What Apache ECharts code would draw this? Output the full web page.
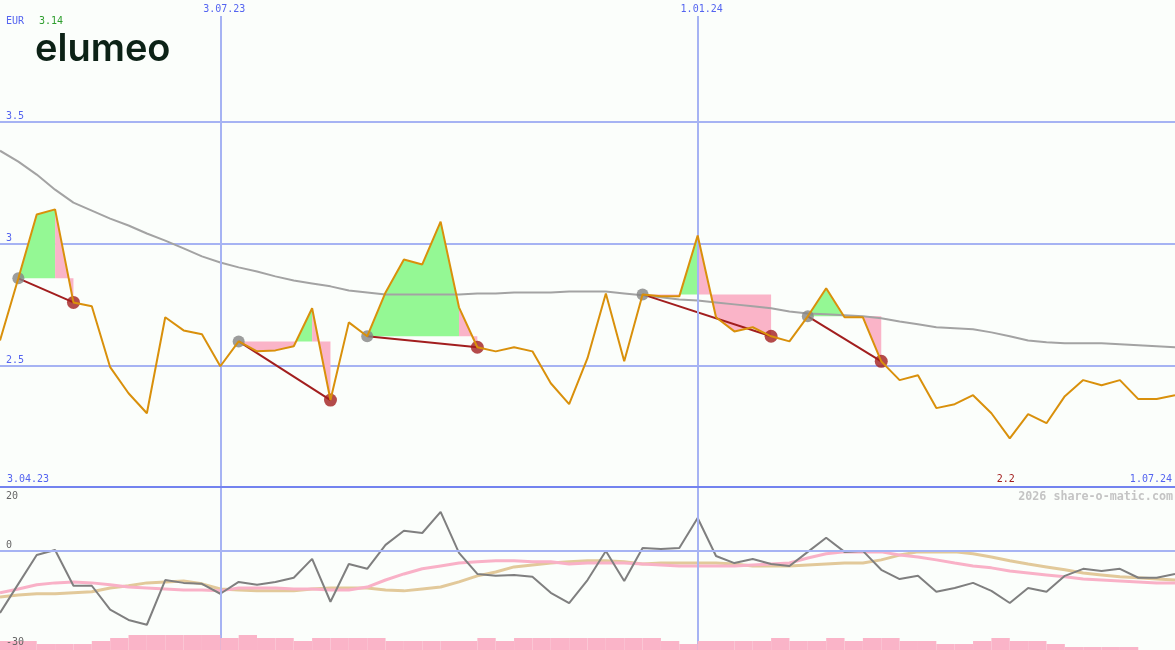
<!DOCTYPE html>
<html>
<head>
<meta charset="utf-8">
<script src="https://cdn.jsdelivr.net/npm/echarts@6/dist/echarts.min.js"></script>
<style>
  html, body { margin: 0; padding: 0; background: #fbfefb; }
  #chart { width: 1175px; height: 650px; }
</style>
</head>
<body>
<div id="chart"></div>
<script>
// ---------- data (weekly points, index 0..64) ----------
const price = [2.602, 2.857, 3.119, 3.14, 2.758, 2.742, 2.492, 2.385, 2.303, 2.697,
  2.643, 2.627, 2.496, 2.598, 2.557, 2.561, 2.578, 2.734, 2.357, 2.676,
  2.619, 2.799, 2.934, 2.914, 3.090, 2.738, 2.574, 2.557, 2.574, 2.557,
  2.426, 2.340, 2.529, 2.795, 2.516, 2.791, 2.783, 2.783, 3.033, 2.697,
  2.639, 2.656, 2.619, 2.598, 2.701, 2.816, 2.697, 2.697, 2.516, 2.439,
  2.459, 2.324, 2.340, 2.377, 2.303, 2.20, 2.299, 2.262, 2.373, 2.439,
  2.418, 2.439, 2.361, 2.361, 2.377];
const movingAvg = [3.381, 3.336, 3.283, 3.221, 3.168, 3.135, 3.102, 3.074, 3.041, 3.012,
  2.980, 2.947, 2.922, 2.902, 2.885, 2.865, 2.848, 2.836, 2.824, 2.807,
  2.799, 2.791, 2.791, 2.791, 2.791, 2.791, 2.795, 2.795, 2.799, 2.799,
  2.799, 2.803, 2.803, 2.803, 2.795, 2.787, 2.779, 2.770, 2.766, 2.758,
  2.750, 2.742, 2.734, 2.721, 2.713, 2.709, 2.705, 2.701, 2.693, 2.680,
  2.668, 2.656, 2.652, 2.648, 2.635, 2.619, 2.602, 2.594, 2.590, 2.590,
  2.590, 2.586, 2.582, 2.578, 2.574];
// signals: [start index, turn index, end index]
const signals = [[1, 3, 4], [13, 17, 18], [20, 25, 26], [35, 38, 42], [44, 46, 48]];

const oscillator = [-19.4, -10.3, -1.3, 0.3, -10.9, -10.9, -18.4, -21.6, -23.1, -9.1,
  -10.0, -10.3, -13.4, -9.7, -10.6, -9.7, -8.4, -2.5, -15.9, -4.1,
  -5.6, 1.9, 6.3, 5.6, 12.2, -0.6, -7.2, -7.8, -7.5, -8.1,
  -13.1, -16.3, -9.1, 0.0, -9.4, 0.9, 0.6, 0.9, 10.3, -1.6,
  -3.8, -2.5, -4.1, -4.7, -0.3, 4.1, -0.3, 0.0, -5.9, -8.8,
  -7.8, -12.8, -11.6, -10.0, -12.5, -16.3, -11.6, -12.8, -7.8, -5.6,
  -6.3, -5.6, -8.4, -8.4, -7.2];
const oscFast = [-13.1, -11.9, -10.6, -10.0, -9.7, -10.0, -10.6, -11.3, -11.6, -11.9,
  -12.2, -12.2, -12.5, -11.6, -11.6, -11.6, -11.9, -11.9, -12.2, -12.2,
  -11.3, -9.1, -7.2, -5.6, -4.7, -3.8, -3.4, -3.1, -3.1, -3.4,
  -3.4, -4.1, -3.8, -3.8, -3.8, -4.1, -4.4, -4.7, -4.7, -4.7,
  -4.7, -4.4, -4.1, -3.8, -2.2, -0.9, -0.3, -0.3, -0.3, -1.3,
  -1.9, -2.8, -3.8, -4.7, -5.3, -6.3, -6.9, -7.5, -8.1, -8.8,
  -9.1, -9.4, -9.7, -10.0, -10.0];
const oscSlow = [-14.4, -13.8, -13.4, -13.4, -13.1, -12.8, -11.6, -10.9, -10.0, -9.7,
  -9.4, -10.3, -11.9, -12.2, -12.5, -12.5, -12.5, -11.9, -11.6, -11.6,
  -11.6, -12.2, -12.5, -11.9, -11.3, -9.7, -7.8, -6.6, -5.0, -4.4,
  -3.8, -3.4, -3.1, -3.1, -3.4, -4.1, -3.8, -3.8, -3.8, -3.8,
  -4.1, -4.7, -4.7, -4.7, -4.4, -4.1, -3.8, -3.8, -2.8, -1.3,
  -0.3, -0.3, -0.3, -0.9, -1.9, -3.1, -4.1, -5.0, -5.9, -6.9,
  -7.5, -8.1, -8.4, -8.8, -9.1];
const volume = [3, 3, 2, 2, 2, 3, 4, 5, 5, 5, 5, 5, 4, 5, 4, 4, 3, 4, 4, 4,
  4, 3, 3, 3, 3, 3, 4, 3, 4, 4, 4, 4, 4, 4, 4, 4, 3, 2, 3, 3,
  3, 3, 4, 3, 3, 4, 3, 4, 4, 3, 3, 2, 2, 3, 4, 3, 3, 2, 1, 1,
  1, 1, 0, 0];

const dateLabels = ['3.04.23', '3.07.23', '1.01.24', '1.07.24'];
const dateIdx = [0, 12, 38, 64];
const priceTicks = [2.5, 3, 3.5];
const oscTicks = [20, 0, -30];
const currency = 'EUR';
const maxLabel = '3.14';
const minLabel = '2.2';
const brand = 'elumeo';
const watermark = '2026 share-o-matic.com';

// ---------- styles ----------
const MONO = 'DejaVu Sans Mono';
const BLUE_TXT = '#5464f0';
const GRID_C = '#a6b3f3';
const GREEN_F = '#94f894';
const PINK_F = '#fab4c8';
const DARKRED = '#a21e1e';

const N = price.length - 1;
const minIdx = price.indexOf(Math.min(...price));

const chart = echarts.init(document.getElementById('chart'), null, { renderer: 'canvas' });

function fillRender(params, api) {
  const s = api.value(0), m = api.value(1), e = api.value(2);
  const L = price[s];
  const build = (a, b, fn) => {
    const pts = [];
    for (let i = a; i <= b; i++) {
      pts.push(api.coord([i, fn(price[i], L)]));
      if (i < b) {
        const d0 = price[i] - L, d1 = price[i + 1] - L;
        if (d0 * d1 < 0) {
          const t = d0 / (d0 - d1);
          pts.push(api.coord([i + t, L]));
        }
      }
    }
    pts.push(api.coord([b, L]));
    pts.push(api.coord([a, L]));
    return pts;
  };
  return {
    type: 'group',
    children: [
      { type: 'polygon', shape: { points: build(s, m, (p, l) => Math.max(p, l)) }, style: { fill: GREEN_F } },
      { type: 'polygon', shape: { points: build(s, m, (p, l) => Math.min(p, l)) }, style: { fill: PINK_F } },
      { type: 'polygon', shape: { points: build(m, e, (p) => p) }, style: { fill: PINK_F } }
    ]
  };
}

function trendRender(params, api) {
  const s = api.value(0), e = api.value(2);
  const a = api.coord([s, price[s]]);
  const b = api.coord([e, price[e]]);
  return { type: 'line', shape: { x1: a[0], y1: a[1], x2: b[0], y2: b[1] }, style: { stroke: DARKRED, lineWidth: 2 } };
}

function volRender(params, api) {
  const i = api.value(0), v = api.value(1);
  const a = api.coord([i, v]);
  const b = api.coord([i + 1, 0]);
  return { type: 'rect', shape: { x: a[0], y: a[1], width: b[0] - a[0], height: b[1] - a[1] }, style: { fill: PINK_F } };
}

const vTop = 4 - 16 / 244; // where the date guide lines start
const vlinesTop = dateIdx.slice(1, 3).map(x => [{ coord: [x, vTop] }, { coord: [x, 2] }]);
const vlinesBot = dateIdx.slice(1, 3).map(x => [{ coord: [x, 20] }, { coord: [x, -31] }]);

const option = {
  backgroundColor: '#fbfefb',
  animation: false,
  grid: [
    { left: 0, right: 0, top: -1, height: 488 },
    { left: 0, right: 0, top: 487, height: 163 }
  ],
  xAxis: [
    { gridIndex: 0, type: 'value', min: 0, max: N, axisLine: { show: true, onZero: false, lineStyle: { color: '#7383ef', width: 2 } },
      axisTick: { show: false }, axisLabel: { show: false }, splitLine: { show: false }, z: 10 },
    { gridIndex: 1, type: 'value', min: 0, max: N, axisLine: { show: false }, axisTick: { show: false }, axisLabel: { show: false }, splitLine: { show: false } }
  ],
  yAxis: [
    { gridIndex: 0, type: 'value', min: 2, max: 4, interval: 0.5,
      axisLine: { show: false }, axisTick: { show: false },
      splitLine: { show: true, showMinLine: false, showMaxLine: false, lineStyle: { color: GRID_C, width: 2 } },
      axisLabel: { inside: true, margin: 6, color: BLUE_TXT, fontFamily: MONO, fontSize: 10, verticalAlign: 'bottom', padding: [0, 0, 0, 0],
        formatter: v => priceTicks.includes(v) ? String(v) : '' } },
    { gridIndex: 1, type: 'value', min: -31, max: 20, show: false, splitLine: { show: false } },
    { gridIndex: 1, type: 'value', min: 0, max: 163 / 3, show: false, splitLine: { show: false } }
  ],
  series: [
    { type: 'custom', name: 'fills', xAxisIndex: 0, yAxisIndex: 0, renderItem: fillRender, data: signals, z: 2, silent: true,
      markLine: { silent: true, symbol: 'none', label: { show: false }, lineStyle: { color: GRID_C, width: 2, type: 'solid' }, data: vlinesTop } },
    { type: 'line', name: 'avg', xAxisIndex: 0, yAxisIndex: 0, data: movingAvg.map((v, i) => [i, v]), showSymbol: false,
      lineStyle: { color: '#a3a3a3', width: 2 }, z: 3, silent: true },
    { type: 'custom', name: 'trend', xAxisIndex: 0, yAxisIndex: 0, renderItem: trendRender, data: signals, z: 4, silent: true },
    { type: 'scatter', name: 'start', xAxisIndex: 0, yAxisIndex: 0, data: signals.map(s => [s[0], price[s[0]]]), symbolSize: 12,
      itemStyle: { color: '#858585' }, z: 5, silent: true },
    { type: 'scatter', name: 'end', xAxisIndex: 0, yAxisIndex: 0, data: signals.map(s => [s[2], price[s[2]]]), symbolSize: 13,
      itemStyle: { color: DARKRED }, z: 5, silent: true },
    { type: 'line', name: 'price', xAxisIndex: 0, yAxisIndex: 0, data: price.map((v, i) => [i, v]), showSymbol: false,
      lineStyle: { color: '#d9900b', width: 2 }, z: 6, silent: true },

    { type: 'line', name: 'oscSlow', xAxisIndex: 1, yAxisIndex: 1, data: oscSlow.map((v, i) => [i, v]), showSymbol: false,
      lineStyle: { color: '#e2c99a', width: 3 }, z: 3, silent: true,
      markLine: { silent: true, symbol: 'none', label: { show: false }, lineStyle: { color: GRID_C, width: 2, type: 'solid' },
        data: [{ yAxis: 0 }].concat(vlinesBot) } },
    { type: 'line', name: 'oscFast', xAxisIndex: 1, yAxisIndex: 1, data: oscFast.map((v, i) => [i, v]), showSymbol: false,
      lineStyle: { color: '#f9b1c7', width: 3 }, z: 3, silent: true },
    { type: 'line', name: 'osc', xAxisIndex: 1, yAxisIndex: 1, data: oscillator.map((v, i) => [i, v]), showSymbol: false,
      lineStyle: { color: '#7f7f7f', width: 2 }, z: 4, silent: true },
    { type: 'custom', name: 'volume', xAxisIndex: 1, yAxisIndex: 2, renderItem: volRender, data: volume.map((v, i) => [i, v]), z: 6, silent: true }
  ]
};
chart.setOption(option);

// text annotations positioned through the chart's own scales
const graphics = [];
const txt = (text, x, y, color, align, vAlign, size, weight) => graphics.push({
  type: 'text', x, y, silent: true, z: 20,
  style: { text, fill: color, font: (weight || 'normal') + ' ' + (size || 10) + 'px "' + MONO + '"', textAlign: align, textVerticalAlign: vAlign }
});
const px0 = (x, y) => chart.convertToPixel({ gridIndex: 0 }, [x, y]);
const px1 = (x, y) => chart.convertToPixel({ gridIndex: 1 }, [x, y]);

txt(currency, 6, 16, BLUE_TXT, 'left', 'top');
txt(maxLabel, 39, 16, '#2e9e2e', 'left', 'top');
// date labels
const yDateTop = 4;
const yDateBot = px0(0, 2)[1] - 3;
txt(dateLabels[0], px0(dateIdx[0], 2)[0] + 7, yDateBot, BLUE_TXT, 'left', 'bottom');
txt(dateLabels[1], px0(dateIdx[1], 2)[0] + 4, yDateTop, BLUE_TXT, 'center', 'top');
txt(dateLabels[2], px0(dateIdx[2], 2)[0] + 4, yDateTop, BLUE_TXT, 'center', 'top');
txt(dateLabels[3], px0(dateIdx[3], 2)[0] - 3, yDateBot, BLUE_TXT, 'right', 'bottom');
txt(minLabel, px0(minIdx, 2)[0] - 4, yDateBot, DARKRED, 'center', 'bottom');
// oscillator ticks
txt(String(oscTicks[0]), 6, px1(0, oscTicks[0])[1] + 4, '#666666', 'left', 'top');
txt(String(oscTicks[1]), 6, px1(0, oscTicks[1])[1] - 1, '#666666', 'left', 'bottom');
txt(String(oscTicks[2]), 6, px1(0, oscTicks[2])[1] + 1, '#666666', 'left', 'bottom');
// watermark
txt(watermark, 1173, 491, '#c4c4c4', 'right', 'top', 11.7, 'bold');
// brand
graphics.push({ type: 'text', x: 35, y: 31, silent: true, z: 20,
  style: { text: brand, fill: '#0c2216', font: '600 38px Inter', textAlign: 'left', textVerticalAlign: 'top' } });

chart.setOption({ graphic: graphics });
</script>
</body>
</html>
